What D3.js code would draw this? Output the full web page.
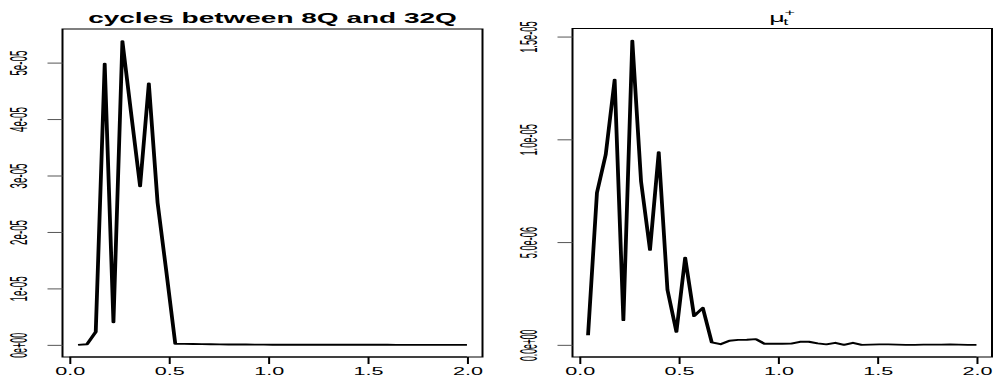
<!DOCTYPE html>
<html>
<head>
<meta charset="utf-8">
<script src="https://cdn.jsdelivr.net/npm/d3@7"></script>
<style>
  body { margin: 0; background: #fff; }
  text { font-family: "Liberation Sans", Arial, sans-serif; fill: #000; }
</style>
</head>
<body>
<svg width="993" height="379"></svg>
<script>
// frequency grid shared by both panels
const freq = [0.044, 0.089, 0.133, 0.178, 0.222, 0.267, 0.311, 0.356, 0.400, 0.444,
  0.489, 0.533, 0.578, 0.622, 0.667, 0.711, 0.756, 0.800, 0.844, 0.889,
  0.933, 0.978, 1.022, 1.067, 1.111, 1.156, 1.200, 1.244, 1.289, 1.333,
  1.378, 1.422, 1.467, 1.511, 1.556, 1.600, 1.644, 1.689, 1.733, 1.778,
  1.822, 1.867, 1.911, 1.956, 2.000];

// left panel, in units of 1e-5
const cycles = [0, 0.01, 0.23, 4.98, 0.40, 5.38, 4.10, 2.81, 4.63, 2.52,
  1.27, 0.02, 0.018, 0.015, 0.012, 0.010, 0.008, 0.007, 0.006, 0.005,
  0.004, 0.004, 0.003, 0.003, 0.003, 0.002, 0.002, 0.002, 0.002, 0.001,
  0.001, 0.001, 0.001, 0.001, 0.001, 0.001, 0, 0, 0, 0,
  0, 0, 0, 0, 0];

// right panel, in units of 1e-6
const mu = [0.47, 7.41, 9.25, 12.9, 1.2, 14.8, 7.95, 4.62, 9.37, 2.67,
  0.63, 4.24, 1.4, 1.8, 0.12, 0.03, 0.2, 0.24, 0.25, 0.28,
  0.05, 0.05, 0.05, 0.06, 0.15, 0.15, 0.07, 0.02, 0.1, 0.0,
  0.1, 0.0, 0.01, 0.02, 0.02, 0.01, 0.0, 0.0, 0.01, 0.01,
  0.01, 0.02, 0.01, 0.0, 0.0];

const xTicks = [0, 0.5, 1, 1.5, 2];
const xTickLabels = ["0.0", "0.5", "1.0", "1.5", "2.0"];
const leftTicks = [0, 1, 2, 3, 4, 5];
const leftTickLabels = ["0e+00", "1e-05", "2e-05", "3e-05", "4e-05", "5e-05"];
const rightTicks = [0, 5, 10, 15];
const rightTickLabels = ["0.0e+00", "5.0e-06", "1.0e-05", "1.5e-05"];

const svg = d3.select('svg');
// the original figure is stretched 2x horizontally, so draw in half-width coords
const stage = svg.append('g').attr('transform', 'scale(2,1)');

function ext(arr) {
  const e = d3.extent(arr);
  const r = e[1] - e[0];
  return [e[0] - 0.04 * r, e[1] + 0.04 * r];
}

function panel(opt) {
  const g = stage.append('g');
  const x = d3.scaleLinear().domain(ext(freq)).range([opt.left, opt.right]);
  const y = d3.scaleLinear().domain(ext(opt.values)).range([opt.bottom, opt.top]);

  g.append('rect')
    .attr('x', opt.left).attr('y', opt.top)
    .attr('width', opt.right - opt.left).attr('height', opt.bottom - opt.top)
    .attr('fill', 'none').attr('stroke', '#000').attr('stroke-width', 1);

  const xa = g.append('g')
    .attr('transform', `translate(0,${opt.bottom})`)
    .call(d3.axisBottom(x).tickValues(xTicks).tickSize(7)
      .tickFormat((d, i) => xTickLabels[i]));
  xa.select('.domain').attr('d', `M${x(xTicks[0])},0H${x(xTicks[xTicks.length - 1])}`)
    .attr('stroke-width', 1);
  xa.selectAll('.tick line').attr('stroke-width', 1);
  xa.selectAll('text')
    .attr('y', 9.8).attr('dy', '0.71em')
    .attr('font-size', 11.5)
    .attr('textLength', 15).attr('lengthAdjust', 'spacingAndGlyphs');

  const ya = g.append('g')
    .attr('transform', `translate(${opt.left},0)`)
    .call(d3.axisLeft(y).tickValues(opt.ticks).tickSize(7.5)
      .tickFormat((d, i) => opt.tickLabels[i]));
  ya.select('.domain').remove();
  ya.selectAll('.tick line').attr('stroke', '#555').attr('stroke-width', 1);
  ya.selectAll('text')
    .attr('x', 0).attr('y', 0).attr('dy', '0.35em')
    .attr('text-anchor', 'middle')
    .attr('transform', 'translate(-21.9,0) rotate(-90)')
    .attr('font-size', 12)
    .attr('textLength', opt.labelLen).attr('lengthAdjust', 'spacingAndGlyphs');

  const line = d3.line()
    .x((d, i) => x(freq[i]))
    .y(d => y(d));

  g.append('path')
    .datum(opt.values)
    .attr('d', line)
    .attr('fill', 'none')
    .attr('stroke', '#000')
    .attr('stroke-width', 1.9)
    .attr('stroke-linejoin', 'round');

  return g;
}

const gl = panel({ left: 31.25, right: 241.25, top: 29, bottom: 357,
  values: cycles, ticks: leftTicks, tickLabels: leftTickLabels, labelLen: 25 });
gl.append('text')
  .attr('x', 136.25).attr('y', 23)
  .attr('text-anchor', 'middle')
  .attr('font-size', 14).attr('font-weight', 'bold')
  .text('cycles between 8Q and 32Q');

const gr = panel({ left: 286.25, right: 496, top: 28.5, bottom: 357,
  values: mu, ticks: rightTicks, tickLabels: rightTickLabels, labelLen: 31.5 });
gr.append('text').attr('x', 384.6).attr('y', 22).attr('font-size', 13.5).text('μ');
gr.append('text').attr('x', 391.6).attr('y', 25.5).attr('font-size', 9).text('t');
gr.append('text').attr('x', 392.2).attr('y', 16).attr('font-size', 9).text('+');
</script>
</body>
</html>
